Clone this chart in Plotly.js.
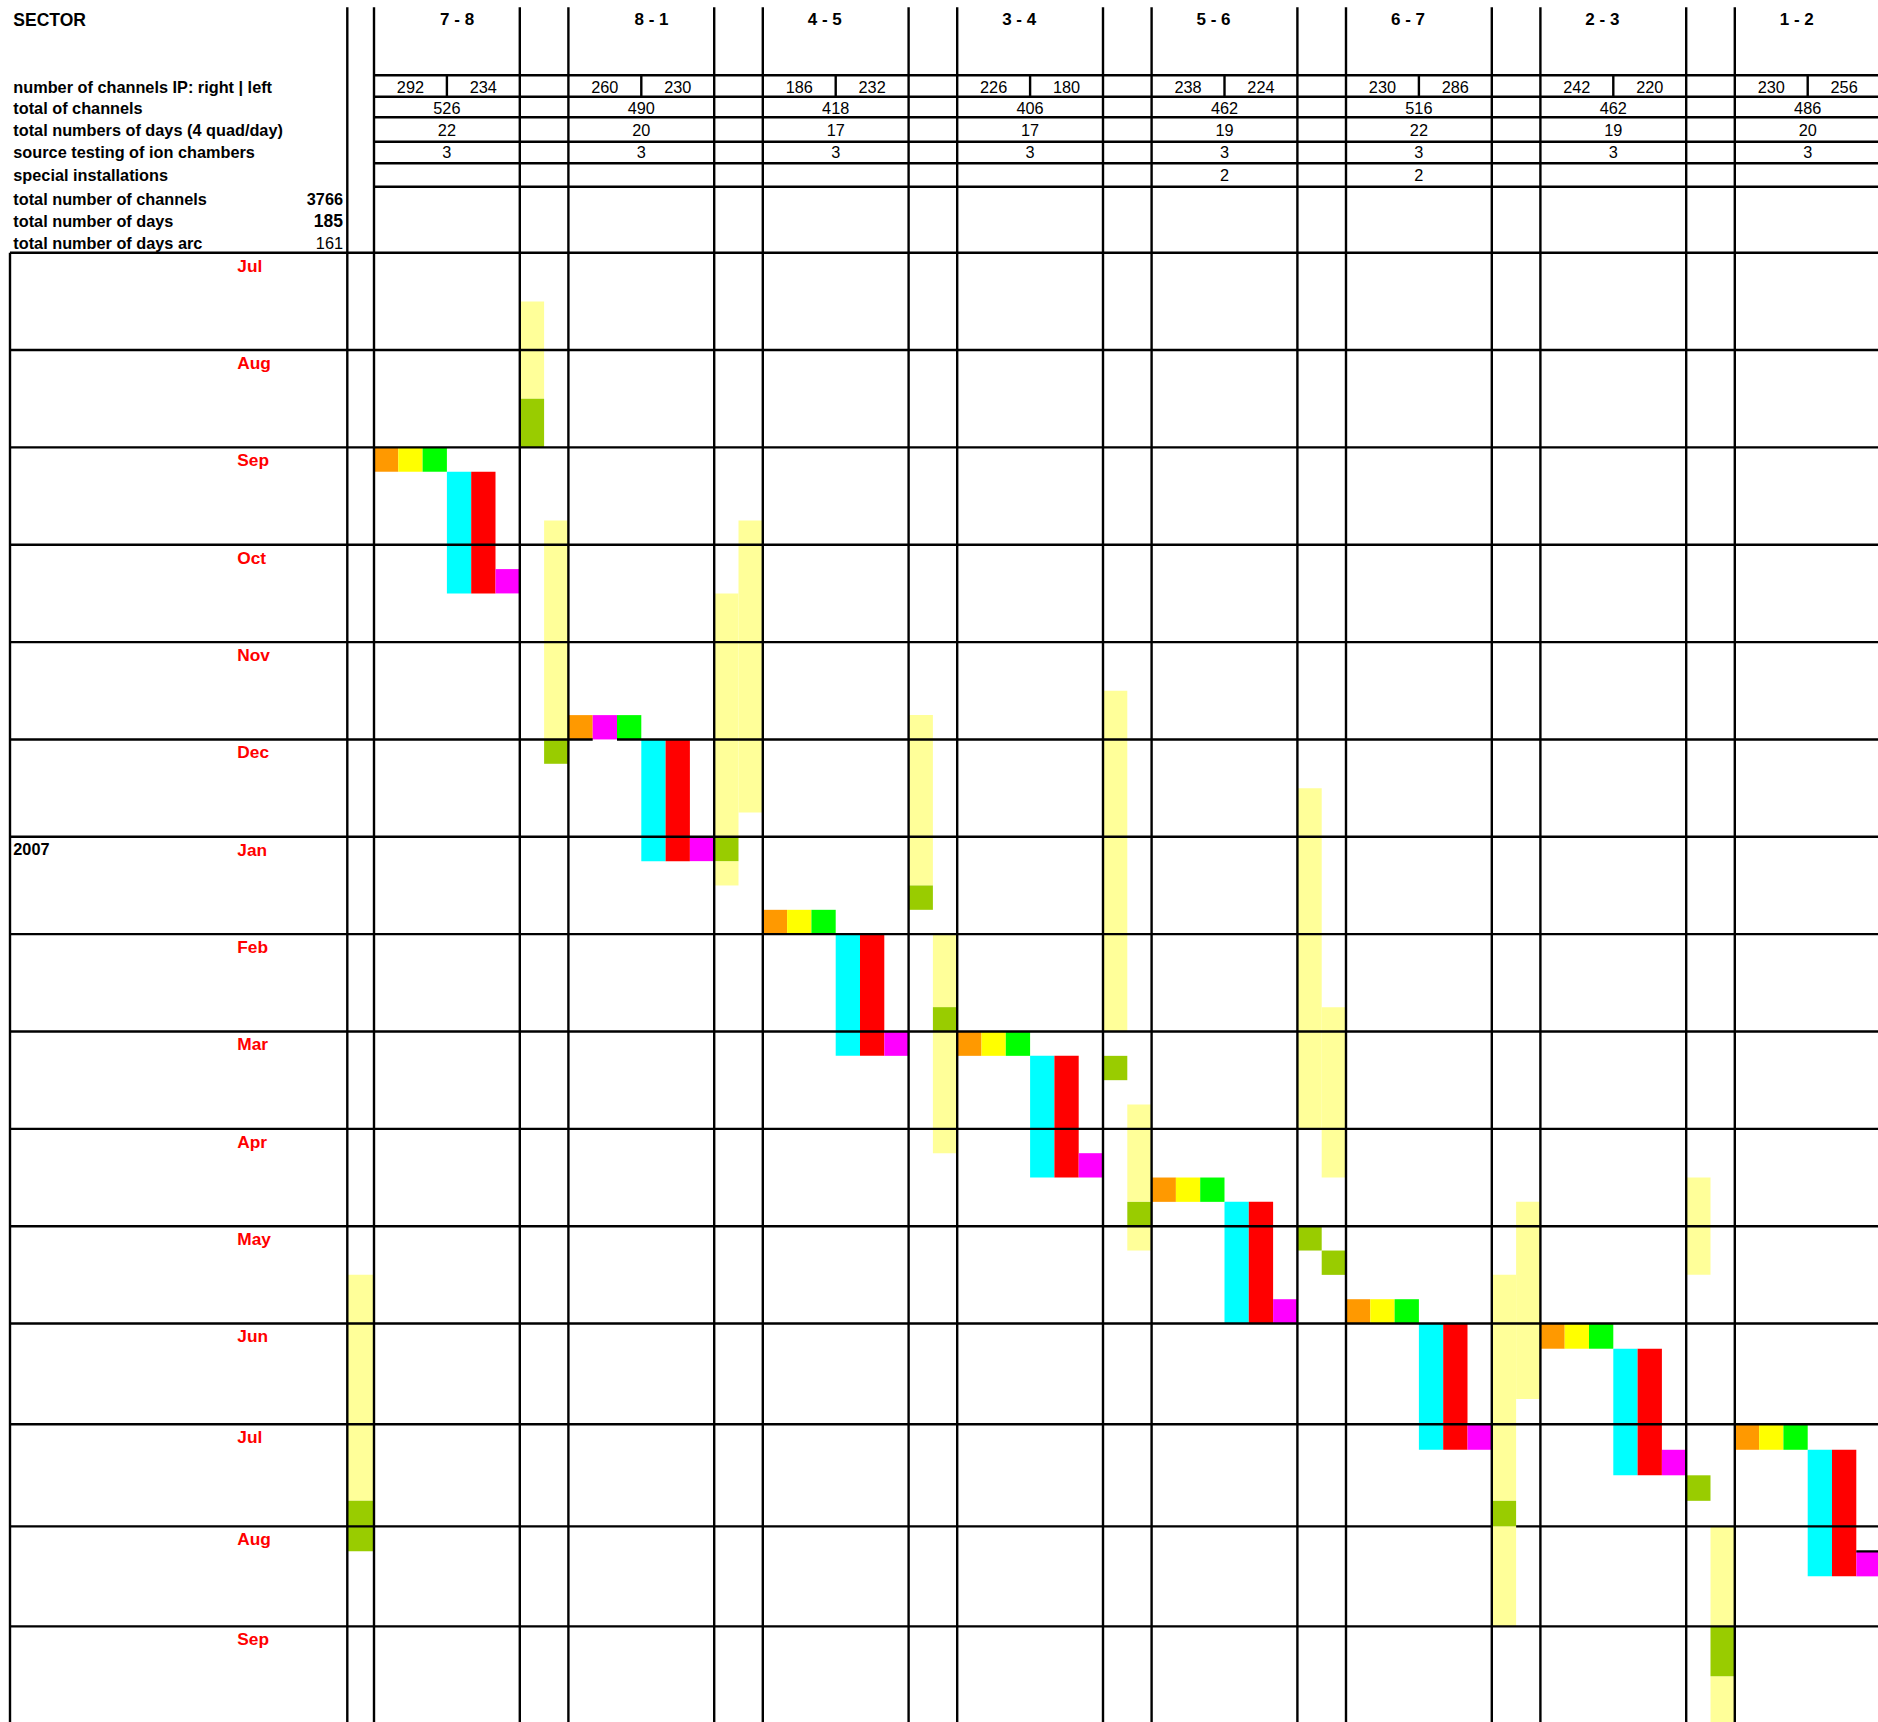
<!DOCTYPE html>
<html>
<head>
<meta charset="utf-8">
<script src="https://cdn.plot.ly/plotly-3.0.1.min.js"></script>
<style>
  html, body { margin: 0; padding: 0; background: #ffffff; }
  #chart { width: 1878px; height: 1722px; }
</style>
</head>
<body>
<div id="chart"></div>
<script>
// ---------------- DATA ----------------
const sectors = ['7 - 8', '8 - 1', '4 - 5', '3 - 4', '5 - 6', '6 - 7', '2 - 3', '1 - 2'];
const channelsRight = [292, 260, 186, 226, 238, 230, 242, 230];
const channelsLeft  = [234, 230, 232, 180, 224, 286, 220, 256];
const totalChannels = [526, 490, 418, 406, 462, 516, 462, 486];
const totalDays     = [22, 20, 17, 17, 19, 22, 19, 20];
const sourceTesting = [3, 3, 3, 3, 3, 3, 3, 3];
const specialInstallations = [null, null, null, null, 2, 2, null, null];

const rowLabels = ['number of channels IP: right | left', 'total of channels',
  'total numbers of days (4 quad/day)', 'source testing of ion chambers', 'special installations'];
const summaryLabels = ['total number of channels', 'total number of days', 'total number of days arc'];
const summaryValues = [3766, 185, 161];

const monthLabels = ['Jul', 'Aug', 'Sep', 'Oct', 'Nov', 'Dec', 'Jan', 'Feb', 'Mar', 'Apr', 'May', 'Jun', 'Jul', 'Aug', 'Sep'];
const yearLabels = ['2007'];
const yearMonthIndex = [6];

// Runs of coloured cells: [block, sub-column, first week, number of weeks]
// block = sector index (sub-columns 1-6 = sector, 7-8 = gap after the sector); block -1 / 8 = left spare column
const orangeRuns  = [[0,1,8,1],[1,1,19,1],[2,1,27,1],[3,1,32,1],[4,1,38,1],[5,1,43,1],[6,1,44,1],[7,1,48,1]];
const yellowRuns  = [[0,2,8,1],[2,2,27,1],[3,2,32,1],[4,2,38,1],[5,2,43,1],[6,2,44,1],[7,2,48,1]];
const greenRuns   = [[0,3,8,1],[1,3,19,1],[2,3,27,1],[3,3,32,1],[4,3,38,1],[5,3,43,1],[6,3,44,1],[7,3,48,1]];
const cyanRuns    = [[0,4,9,5],[1,4,20,5],[2,4,28,5],[3,4,33,5],[4,4,39,5],[5,4,44,5],[6,4,45,5],[7,4,49,5]];
const redRuns     = [[0,5,9,5],[1,5,20,5],[2,5,28,5],[3,5,33,5],[4,5,39,5],[5,5,44,5],[6,5,45,5],[7,5,49,5]];
const magentaRuns = [[0,6,13,1],[1,2,19,1],[1,6,24,1],[2,6,32,1],[3,6,37,1],[4,6,43,1],[5,6,48,1],[6,6,49,1],[7,6,53,1]];
const paleYellowRuns = [
  [-1,8,42,9],
  [0,7,2,4],[0,8,11,9],
  [1,7,14,10],[1,7,25,1],[1,8,11,12],
  [2,7,19,7],[2,8,28,3],[2,8,32,5],
  [3,7,18,14],[3,8,35,4],[3,8,40,1],
  [4,7,22,14],[4,8,31,7],
  [5,7,42,9],[5,7,52,4],[5,8,39,8],
  [6,7,38,4],[6,8,52,4],[6,8,58,2]
];
const oliveRuns = [
  [-1,8,51,2],
  [0,7,6,2],[0,8,20,1],
  [1,7,24,1],
  [2,7,26,1],[2,8,31,1],
  [3,7,33,1],[3,8,39,1],
  [4,7,40,1],[4,8,41,1],
  [5,7,51,1],
  [6,7,50,1],[6,8,56,2]
];

// ---------------- LAYOUT GEOMETRY ----------------
const W = 1878, H = 1722;
const FONT = 'Liberation Sans, Arial, Helvetica, sans-serif';
const X0 = 374, UNIT = 24.30;                // pixel of grid origin, width of one sub-column
const toX = px => (px - X0) / UNIT;
const COL0_LEFT = toX(347.3);
const MONTH_TOP0 = 252.7;
const MONTH_H = [97.35,97.35,97.35,97.35,97.35,97.35,97.35,97.35,97.35,97.35,97.35,100.7,102.1,100.0,100.0,100.0];
function monthTop(m) { let y = MONTH_TOP0; for (let i = 0; i < m; i++) y += MONTH_H[i]; return y; }
function weekTop(w) { const m = Math.floor(w / 4); return monthTop(m) + (w - 4 * m) * MONTH_H[m] / 4; }
function colSpan(c) { return c === 0 ? [COL0_LEFT, 0] : [c - 1, c]; }
const capPt = (c, fs) => c + 0.108 * fs;   // cap-centre -> scatter text anchor

function runsTrace(runs, color) {
  const x = [], w = [], base = [], h = [];
  runs.forEach(([g, s, start, n]) => {
    const [l, r] = colSpan(8 * g + s);
    x.push((l + r) / 2); w.push(r - l);
    const t = weekTop(start), b = Math.min(weekTop(start + n), H + 10);
    base.push(t); h.push(b - t);
  });
  return { type: 'bar', x, y: h, base, width: w, marker: { color, line: { width: 0 } },
           hoverinfo: 'skip', showlegend: false };
}

function textTrace(xs, ys, texts, pos, size, color, weight) {
  return { type: 'scatter', mode: 'text', x: xs, y: ys, text: texts, textposition: pos,
    textfont: { family: FONT, size, color, weight }, hoverinfo: 'skip', showlegend: false, cliponaxis: false };
}

const traces = [
  runsTrace(paleYellowRuns, '#FFFF99'),
  runsTrace(oliveRuns, '#99CC00'),
  runsTrace(orangeRuns, '#FF9900'),
  runsTrace(yellowRuns, '#FFFF00'),
  runsTrace(greenRuns, '#00FF00'),
  runsTrace(cyanRuns, '#00FFFF'),
  runsTrace(redRuns, '#FF0000'),
  runsTrace(magentaRuns, '#FF00FF')
];

// ---------------- TEXT ----------------
const LEFT_X = toX(13.3);
const HEADER_CAP = [87.5, 107.8, 130.4, 152.5, 175.4];
const SUMMARY_CAP = [198.7, 221.0, 243.3];
const FS = 16.3;

traces.push(textTrace([LEFT_X], [capPt(19.3, 17.5)], ['SECTOR'], 'middle right', 17.5, '#000', 'bold'));
traces.push(textTrace(rowLabels.map(() => LEFT_X), HEADER_CAP.map(c => capPt(c, FS)), rowLabels, 'middle right', FS, '#000', 'bold'));
traces.push(textTrace(summaryLabels.map(() => LEFT_X), SUMMARY_CAP.map(c => capPt(c, FS)), summaryLabels, 'middle right', FS, '#000', 'bold'));
const VAL_X = toX(343);
traces.push(textTrace([VAL_X], [capPt(SUMMARY_CAP[0], FS)], [String(summaryValues[0])], 'middle left', FS, '#000', 'bold'));
traces.push(textTrace([VAL_X], [capPt(SUMMARY_CAP[1], 17.5)], [String(summaryValues[1])], 'middle left', 17.5, '#000', 'bold'));
traces.push(textTrace([VAL_X], [capPt(SUMMARY_CAP[2], FS)], [String(summaryValues[2])], 'middle left', FS, '#000', 'normal'));

// sector headings (as placed in the source sheet: first two slightly right of centre, others left)
const HEAD_SHIFT = [0.42, 0.42, -0.45, -0.45, -0.45, -0.45, -0.45, -0.45];
traces.push(textTrace(sectors.map((s, k) => 8 * k + 3 + HEAD_SHIFT[k]), sectors.map(() => capPt(19.2, 17)), sectors, 'middle center', 17, '#000', 'bold'));
// values table
const vx = [], vy = [], vt = [];
sectors.forEach((s, k) => {
  vx.push(8 * k + 1.5); vy.push(capPt(HEADER_CAP[0], FS)); vt.push(String(channelsRight[k]));
  vx.push(8 * k + 4.5); vy.push(capPt(HEADER_CAP[0], FS)); vt.push(String(channelsLeft[k]));
  vx.push(8 * k + 3); vy.push(capPt(HEADER_CAP[1], FS)); vt.push(String(totalChannels[k]));
  vx.push(8 * k + 3); vy.push(capPt(HEADER_CAP[2], FS)); vt.push(String(totalDays[k]));
  vx.push(8 * k + 3); vy.push(capPt(HEADER_CAP[3], FS)); vt.push(String(sourceTesting[k]));
  if (specialInstallations[k] !== null) { vx.push(8 * k + 3); vy.push(capPt(HEADER_CAP[4], FS)); vt.push(String(specialInstallations[k])); }
});
traces.push(textTrace(vx, vy, vt, 'middle center', FS, '#000', 'normal'));

// months
const MONTH_X = toX(237.3), MFS = 17.3;
traces.push(textTrace(monthLabels.map(() => MONTH_X), monthLabels.map((m, i) => capPt(monthTop(i) + 12.7, MFS)),
  monthLabels, 'middle right', MFS, '#FF0000', 'bold'));
traces.push(textTrace(yearLabels.map(() => LEFT_X), yearMonthIndex.map(i => capPt(monthTop(i) + 12.7, FS)),
  yearLabels, 'middle right', FS, '#000', 'bold'));

// ---------------- GRID LINES ----------------
const shapes = [];
const LW = 2.4;
const L = (x0, y0, x1, y1) => shapes.push({ type: 'line', xref: 'x', yref: 'y', x0, y0, x1, y1, layer: 'above',
  line: { color: '#000', width: LW } });
const XL = toX(10), XR = toX(W) + 1;
const LINE_GAPS = [{ month: 5, col: 10 }, { month: 13, col: 47 }];
monthLabels.forEach((m, i) => {
  const y = monthTop(i);
  const gap = LINE_GAPS.find(g => g.month === i);
  if (gap) { L(XL, y, gap.col - 1, y); L(gap.col, y, XR, y); }
  else L(XL, y, XR, y);
});
L(XL, MONTH_TOP0, XL, H + 5);
const VTOP = 7.3;
const vlines = [COL0_LEFT, 0];
for (let k = 0; k < 7; k++) { vlines.push(8 * k + 6, 8 * k + 8); }
vlines.forEach(x => L(x, VTOP, x, H + 5));
[75.3, 96.7, 117.3, 141.7, 163.3, 186.7].forEach(y => L(0, y, XR, y));
sectors.forEach((s, k) => L(8 * k + 3, 75.3, 8 * k + 3, 96.7));
L(61, weekTop(53), XR, weekTop(53));

const layout = {
  width: W, height: H,
  margin: { l: 0, r: 0, t: 0, b: 0, pad: 0 },
  paper_bgcolor: '#ffffff', plot_bgcolor: '#ffffff',
  xaxis: { range: [toX(0), toX(W)], visible: false, fixedrange: true },
  yaxis: { range: [H, 0], visible: false, fixedrange: true },
  barmode: 'overlay', showlegend: false, shapes,
  font: { family: FONT }
};

Plotly.newPlot('chart', traces, layout, { staticPlot: true, displayModeBar: false });
</script>
</body>
</html>
